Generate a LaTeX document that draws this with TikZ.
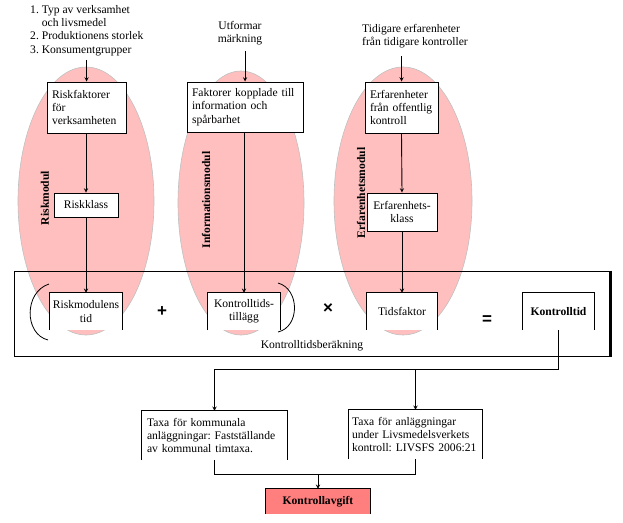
\documentclass[tikz,border=0pt]{standalone}
\usepackage{fontspec}
\setmainfont{Liberation Serif}
\newfontfamily\opfont{Liberation Sans}
\usepackage{xcolor}
\usetikzlibrary{shapes.geometric,arrows,positioning,calc}

\definecolor{modpink}{HTML}{FFBFBF}
\definecolor{feepink}{HTML}{FF7F7F}

\begin{document}
\frenchspacing
\begin{tikzpicture}[
  x=1pt, y=-1pt,
  font=\fontsize{11.6}{13.3}\selectfont,
  module/.style={ellipse, fill=modpink, draw=gray!50, line width=0.6pt, inner sep=0pt},
  box/.style={rectangle, draw, line width=1pt, fill=white, inner sep=5pt, align=left},
  openbox/.style={rectangle, fill=white, inner sep=2pt, align=center},
  modlabel/.style={rotate=90, font=\fontsize{11.6}{13.3}\selectfont\bfseries},
  op/.style={font=\fontsize{17}{17}\selectfont\opfont\bfseries},
  arrow/.style={->, >=stealth, line width=0.9pt},
  line/.style={line width=0.9pt}
]
\useasboundingbox (0,0) rectangle (623,522);

% Modules (background)
\node[module, minimum width=136pt, minimum height=268pt] (riskmod) at (86,201) {};
\node[module, minimum width=126pt, minimum height=264pt] (infomod) at (241,203) {};
\node[module, minimum width=138pt, minimum height=268pt] (erfmod) at (403,201) {};

\node[modlabel] (risklabel) at (45,198) {Riskmodul};
\node[modlabel] (infolabel) at (206,200) {Informationsmodul};
\node[modlabel] (erflabel) at (361,193) {Erfarenhetsmodul};

% Inputs
\node[align=left, anchor=north west, inner sep=0pt] (faktlist) at (30,5)
  {1. Typ av verksamhet\\\phantom{1. }och livsmedel\\2. Produktionens storlek\\3. Konsumentgrupper};
\node[align=center, inner sep=0pt] (markning) at (240,33) {Utformar\\märkning};
\node[align=left, inner sep=0pt] (tidigare) at (415,36) {Tidigare erfarenheter\\från tidigare kontroller};

% Factor boxes
\node[box, text width=69pt, minimum height=51pt] (riskfakt) at (86.5,107.5) {Riskfaktorer\\för\\verksamheten};
\node[box, text width=106pt, minimum height=50pt] (infofakt) at (245,107) {Faktorer kopplade till\\information och\\spårbarhet};
\node[box, text width=63pt, minimum height=51pt] (erffakt) at (401.5,107.5) {Erfarenheter\\från offentlig\\kontroll};

\node[box, align=center, text width=54pt, minimum height=24pt] (riskklass) at (86,205) {Riskklass};
\node[box, align=center, text width=60pt, minimum height=38pt] (erfklass) at (402,212) {Erfarenhets-\\klass};

% Calculation
\node[draw, line width=1pt, minimum width=596pt, minimum height=85pt] (berakning) at (312,313.5) {};
\draw[line width=2.5pt] (berakning.north east) -- (berakning.south east);
\node (beraktext) at (312,346) {Kontrolltidsberäkning};

\node[openbox, minimum width=72pt, minimum height=37pt] (risktid) at (86,311.5) {Riskmodulens\\tid};
\node[openbox, minimum width=72pt, minimum height=37pt] (kontrtill) at (244,311.5) {Kontrolltids-\\tillägg};
\node[openbox, minimum width=70pt, minimum height=37pt] (tidsfakt) at (402,311.5) {Tidsfaktor};
\node[openbox, minimum width=71pt, minimum height=37pt, font=\fontsize{11.6}{13.3}\selectfont\bfseries] (kontrtid) at (558.5,311.5) {Kontrolltid};

\node[op] (plus) at (162,312) {+};
\node[op] (times) at (328,309) {×};
\node[op] (equals) at (487,320) {=};

\draw[line width=0.8pt] (49,284) .. controls (24,292) and (24,334) .. (48,340);
\draw[line width=0.8pt] (278,283) .. controls (300,289) and (300,327) .. (278,332);

% Fees
\node[openbox, align=left, text width=135pt, minimum height=49pt, inner sep=5pt] (taxakom) at (214.5,435.5)
  {Taxa för kommunala\\anläggningar: Fastställande\\av kommunal timtaxa.};
\node[openbox, align=left, text width=127pt, minimum height=49pt, inner sep=3pt] (taxaanl) at (415.5,434.5)
  {Taxa för anläggningar\\under Livsmedelsverkets\\kontroll: LIVSFS 2006:21};
\node[openbox, fill=feepink, minimum width=104pt, minimum height=25pt, font=\fontsize{11.6}{13.3}\selectfont\bfseries] (avgift) at (318,501.5) {Kontrollavgift};

\foreach \b in {risktid,kontrtill,tidsfakt,kontrtid,taxakom,taxaanl,avgift}
  \draw[line width=1pt] (\b.south west) -- (\b.north west) -- (\b.north east) -- (\b.south east);

% Connectors
\draw[arrow, shorten <=4pt] (riskfakt.north |- faktlist.south) -- (riskfakt.north);
\draw[arrow, shorten <=6pt] (infofakt.north |- markning.south) -- (infofakt.north);
\draw[arrow, shorten <=8pt] (erffakt.north |- tidigare.south) -- (erffakt.north);

\draw[arrow] (riskklass.north |- riskfakt.south) -- (riskklass.north);
\draw[arrow] (riskklass) -- (risktid);
\draw[arrow] (kontrtill.north |- infofakt.south) -- (kontrtill.north);
\draw[arrow] (erffakt.south) -- (erfklass.north);
\draw[arrow] (erfklass) -- (tidsfakt);

\coordinate (split) at (0,369);
\coordinate (merge) at (0,474);
\draw[arrow] (kontrtid.south) |- (taxakom.north |- split) -- (taxakom.north);
\draw[arrow] (taxaanl.north |- split) -- (taxaanl.north);
\draw[line] (taxakom.south) |- (taxaanl.south |- merge) -- (taxaanl.south);
\draw[arrow] (avgift.north |- merge) -- (avgift.north);

\end{tikzpicture}
\end{document}
